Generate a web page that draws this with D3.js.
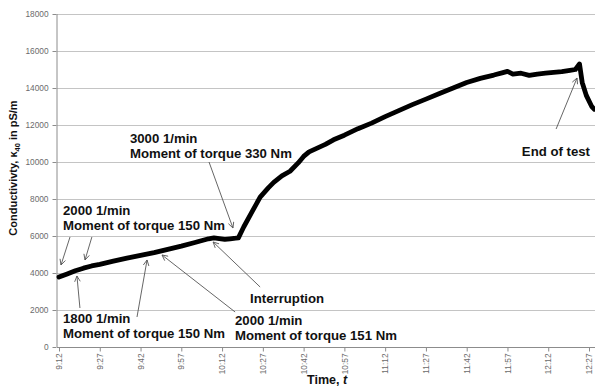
<!DOCTYPE html>
<html>
<head>
<meta charset="utf-8">
<script src="https://cdn.jsdelivr.net/npm/d3@7"></script>
<style>
  body { margin: 0; background: #fff; }
  svg { display: block; font-family: "Liberation Sans", Arial, sans-serif; }
  .axis text { fill: #6b6b6b; font-size: 8.3px; }
  .axis path, .axis line { stroke: #8c8c8c; }
  .grid line { stroke: #c4c4c4; stroke-width: 1; }
  .note { font-size: 13.2px; font-weight: bold; fill: #111; }
  .arrow { stroke: #555; stroke-width: 0.9; fill: none; }
</style>
</head>
<body>
<div id="chart"></div>
<script>
const times = ["9:12", "9:15", "9:18", "9:21", "9:24", "9:27", "9:32", "9:37", "9:42", "9:47",
    "9:52", "9:57", "10:02", "10:07", "10:09", "10:11", "10:13", "10:15", "10:17", "10:18",
    "10:20", "10:23", "10:26", "10:29", "10:31", "10:34", "10:37", "10:40", "10:42", "10:44",
    "10:47", "10:50", "10:53", "10:57", "11:02", "11:07", "11:12", "11:17", "11:22", "11:27",
    "11:32", "11:37", "11:42", "11:47", "11:52", "11:55", "11:57", "11:59", "12:02", "12:05",
    "12:08", "12:11", "12:14", "12:17", "12:20", "12:22", "12:23:30", "12:24:30", "12:26", "12:28", "12:29"];
const values = [3780, 3950, 4120, 4260, 4380, 4470, 4640, 4800, 4950, 5100,
    5280, 5450, 5650, 5850, 5900, 5860, 5820, 5850, 5880, 5900,
    6500, 7300, 8100, 8600, 8900, 9250, 9500, 9950, 10300, 10550,
    10750, 10950, 11200, 11450, 11800, 12100, 12450, 12780, 13100, 13400,
    13700, 14000, 14300, 14520, 14700, 14820, 14900, 14750, 14800, 14680,
    14750, 14800, 14850, 14880, 14950, 15000, 15300, 14300, 13600, 13000, 12850];

const xTicks = ["9:12", "9:27", "9:42", "9:57", "10:12", "10:27", "10:42", "10:57",
    "11:12", "11:27", "11:42", "11:57", "12:12", "12:27"];
const yTicks = [0, 2000, 4000, 6000, 8000, 10000, 12000, 14000, 16000, 18000];

// annotations: text lines, label anchor (time, value), arrows [from, to]
const notes = [
    {lines: ["2000 1/min", "Moment of torque 150 Nm"], at: ["9:13:28", 7135],
        arrows: [[["9:16:03", 5946], ["9:12:44", 4432]], [["9:24:06", 5946], ["9:21:34", 4703]]]},
    {lines: ["1800 1/min", "Moment of torque 150 Nm"], at: ["9:13:28", 1297],
        arrows: [[["9:19:42", 2108], ["9:18:36", 3838]], [["9:40:42", 1622], ["9:44:24", 4703]]]},
    {lines: ["2000 1/min", "Moment of torque 151 Nm"], at: ["10:16:45", 1189],
        arrows: [[["10:16:48", 1892], ["9:49:54", 4973]]]},
    {lines: ["Interruption"], at: ["10:22:18", 2378],
        arrows: [[["10:26:00", 3243], ["10:08:42", 5676]]]},
    {lines: ["3000 1/min", "Moment of torque 330 Nm"], at: ["9:38:06", 11027],
        arrows: [[["10:07:12", 10000], ["10:16:00", 6432]]]},
    {lines: ["End of test"], at: ["12:02:18", 10324],
        arrows: [[["12:14:54", 11784], ["12:22:36", 14540]]]}
];

const parseT = s => (d3.timeParse("%H:%M:%S")(s) || d3.timeParse("%H:%M")(s));

const width = 595, height = 386;
const margin = {left: 59, right: 589, top: 14, bottom: 347};

const svg = d3.select("#chart").append("svg")
    .attr("width", width)
    .attr("height", height);

const x = d3.scaleTime()
    .domain([parseT("9:12"), parseT("12:27")])
    .range([margin.left, margin.right]);

const y = d3.scaleLinear()
    .domain([0, 18000])
    .range([margin.bottom, margin.top]);

// horizontal grid
svg.append("g")
    .attr("class", "grid")
    .selectAll("line")
    .data(yTicks.filter(d => d > 0))
    .join("line")
    .attr("x1", margin.left - 2)
    .attr("x2", width)
    .attr("y1", d => Math.round(y(d)) + 0.5)
    .attr("y2", d => Math.round(y(d)) + 0.5);

// y axis
const yAxis = svg.append("g")
    .attr("class", "axis")
    .attr("transform", "translate(" + (margin.left - 2.5) + ",0)")
    .call(d3.axisLeft(y).tickValues(yTicks).tickSize(4).tickPadding(4).tickFormat(d3.format("d")));
yAxis.select(".domain").attr("d", "M0.5," + margin.top + "V" + margin.bottom);

// x axis
const xAxis = svg.append("g")
    .attr("class", "axis")
    .attr("transform", "translate(0," + (margin.bottom + 0.5) + ")")
    .call(d3.axisBottom(x).tickValues(xTicks.map(parseT)).tickSize(4).tickFormat(d3.timeFormat("%-H:%M")));
xAxis.select(".domain").attr("d", "M" + (margin.left - 2) + ",0H" + width);
xAxis.selectAll(".tick text")
    .attr("transform", "rotate(-90)")
    .attr("text-anchor", "end")
    .attr("x", -6)
    .attr("y", 0)
    .attr("dy", "0.32em");

// data line
const line = d3.line()
    .x((d, i) => x(parseT(times[i])))
    .y(d => y(d))
    .curve(d3.curveLinear);

svg.append("path")
    .datum(values)
    .attr("fill", "none")
    .attr("stroke", "#000")
    .attr("stroke-width", 4.8)
    .attr("stroke-linejoin", "round")
    .attr("stroke-linecap", "round")
    .attr("d", line);

// arrow head
svg.append("defs").append("marker")
    .attr("id", "head")
    .attr("viewBox", "0 0 10 10")
    .attr("refX", 9)
    .attr("refY", 5)
    .attr("markerWidth", 7)
    .attr("markerHeight", 7)
    .attr("markerUnits", "userSpaceOnUse")
    .attr("orient", "auto")
    .append("path")
    .attr("d", "M1,1L9,5L1,9")
    .attr("fill", "none")
    .attr("stroke", "#555")
    .attr("stroke-width", 1.2);

const pt = p => [x(parseT(p[0])), y(p[1])];

notes.forEach(n => {
    n.arrows.forEach(a => {
        const f = pt(a[0]), t = pt(a[1]);
        svg.append("line")
            .attr("class", "arrow")
            .attr("x1", f[0]).attr("y1", f[1])
            .attr("x2", t[0]).attr("y2", t[1])
            .attr("marker-end", "url(#head)");
    });
    const p = pt(n.at);
    const txt = svg.append("text")
        .attr("class", "note")
        .attr("x", p[0])
        .attr("y", p[1]);
    n.lines.forEach((l, i) => {
        txt.append("tspan")
            .attr("x", p[0])
            .attr("dy", i === 0 ? 0 : 14.5)
            .text(l);
    });
});

// axis titles
const yt = svg.append("text")
    .attr("transform", "translate(17,168) rotate(-90)")
    .attr("text-anchor", "middle")
    .style("font-size", "11px")
    .style("font-weight", "bold")
    .attr("fill", "#111");
yt.append("tspan").text("Conductivivty, κ");
yt.append("tspan").attr("dy", 3).style("font-size", "7.5px").text("40");
yt.append("tspan").attr("dy", -3).text(" in pS/m");

const xt = svg.append("text")
    .attr("x", 307)
    .attr("y", 384)
    .style("font-size", "12.5px")
    .style("font-weight", "bold")
    .attr("fill", "#111");
xt.append("tspan").text("Time, ");
xt.append("tspan").style("font-style", "italic").text("t");
</script>
</body>
</html>
